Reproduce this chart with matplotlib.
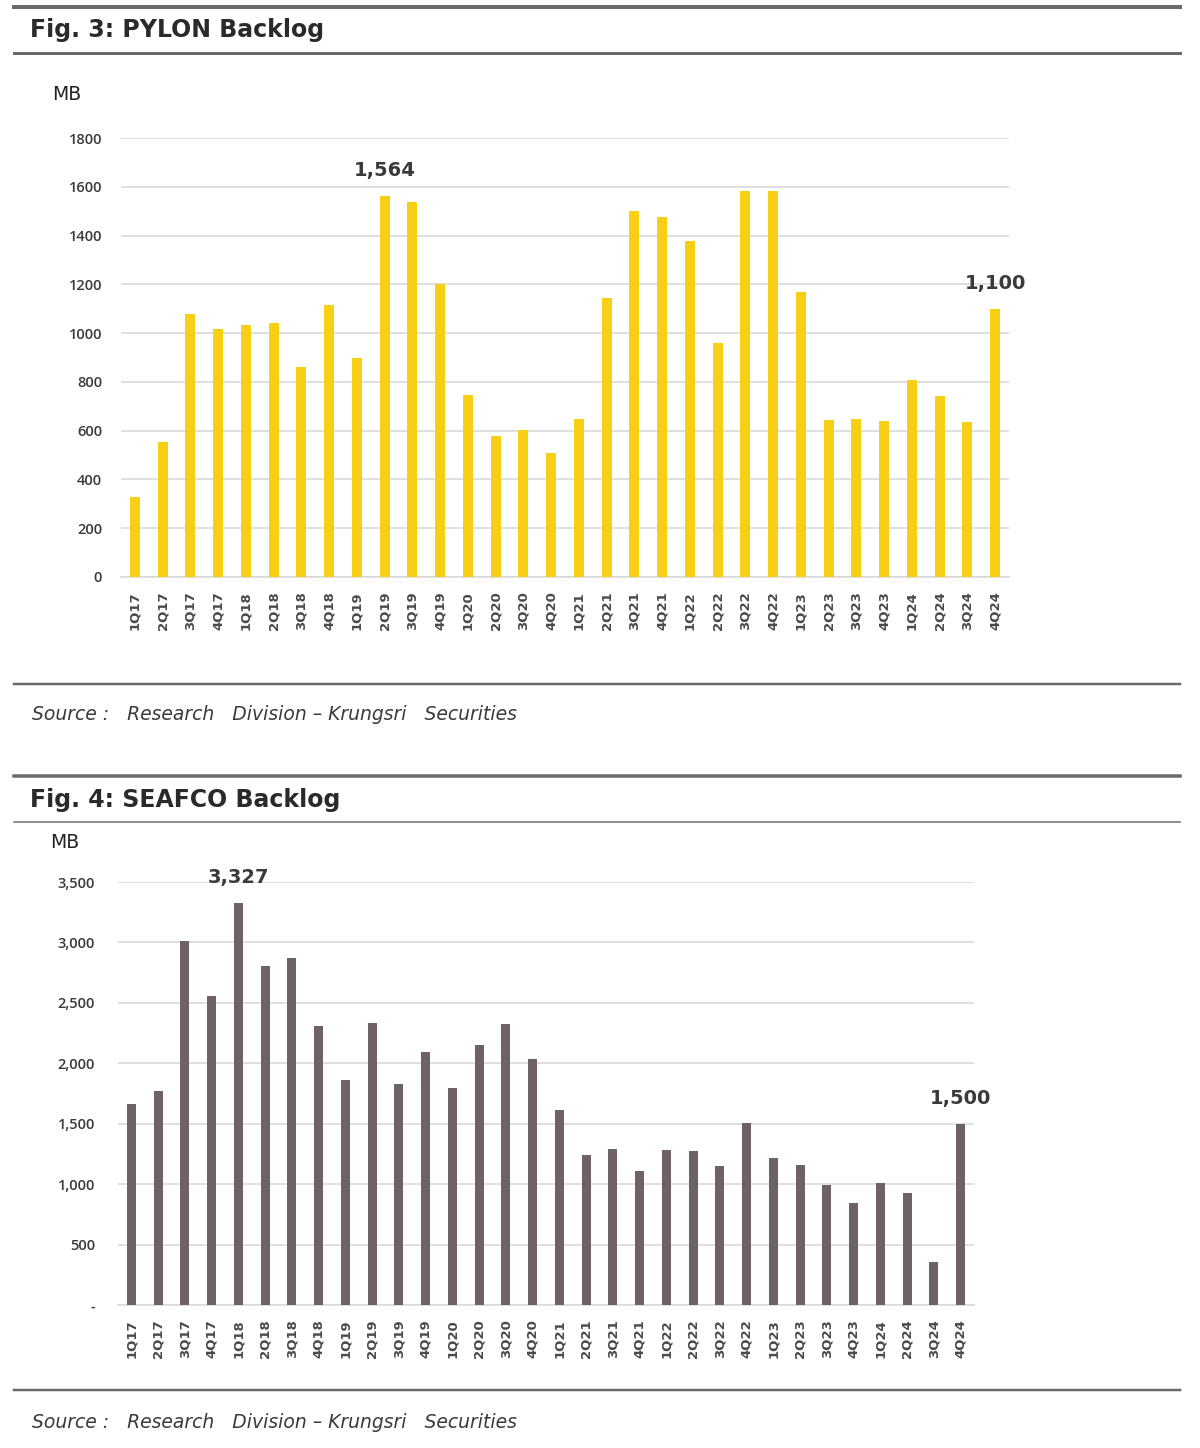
import matplotlib
matplotlib.use('Agg')
import matplotlib.pyplot as plt
from matplotlib.lines import Line2D
from matplotlib.ticker import FuncFormatter

# quarters
quarters = ['1Q17', '2Q17', '3Q17', '4Q17', '1Q18', '2Q18', '3Q18', '4Q18',
            '1Q19', '2Q19', '3Q19', '4Q19', '1Q20', '2Q20', '3Q20', '4Q20',
            '1Q21', '2Q21', '3Q21', '4Q21', '1Q22', '2Q22', '3Q22', '4Q22',
            '1Q23', '2Q23', '3Q23', '4Q23', '1Q24', '2Q24', '3Q24', '4Q24']

# backlog (MB)
pylon = [330, 552, 1077, 1016, 1035, 1040, 861, 1115,
         898, 1564, 1537, 1200, 745, 579, 602, 507,
         648, 1142, 1500, 1475, 1377, 960, 1581, 1581,
         1167, 643, 649, 639, 807, 743, 636, 1100]

seafco = [1666, 1774, 3011, 2556, 3327, 2804, 2873, 2311,
          1865, 2333, 1826, 2093, 1798, 2151, 2327, 2036,
          1611, 1245, 1289, 1110, 1283, 1278, 1149, 1507,
          1217, 1162, 997, 845, 1011, 928, 352, 1500]

pylon_labels = {'2Q19': '1,564', '4Q24': '1,100'}
seafco_labels = {'1Q18': '3,327', '4Q24': '1,500'}

source_txt = 'Source :   Research   Division \u2013 Krungsri   Securities'

W, H = 1200, 1448
plt.rcParams['font.family'] = ['DejaVu Sans']
fig = plt.figure(figsize=(W / 100, H / 100), dpi=100)

def fx(x):
    return x / W

def fy(y):
    return 1 - y / H

def hline(y, lw_px):
    fig.add_artist(Line2D([fx(14), fx(1180)], [fy(y), fy(y)], color='#6a6a6a',
                          lw=lw_px * 0.72, transform=fig.transFigure))

def panel(vals, labels, color, box, ymax, ystep, fmt, barw, ypad):
    x0, y0, x1, y1 = box
    ax = fig.add_axes([fx(x0), fy(y1), fx(x1 - x0), (y1 - y0) / H])
    xs = range(len(vals))
    ax.bar(xs, vals, width=barw, color=color, zorder=3)
    ax.set_xlim(-0.5, len(vals) - 0.5)
    ax.set_ylim(0, ymax)
    ax.set_yticks(range(0, ymax + 1, ystep))
    ax.yaxis.set_major_formatter(FuncFormatter(fmt))
    for t in ax.get_yticklabels():
        t.set_family(['Open Sans', 'DejaVu Sans'])
        t.set_fontweight('semibold')
    ax.set_xticks(list(xs))
    ax.set_xticklabels(quarters, rotation=90, fontsize=9.5, fontweight='bold',
                       color='#4a4a4a')
    ax.tick_params(axis='y', labelsize=10.5, colors='#3a3a3a', length=0, pad=ypad)
    ax.tick_params(axis='x', length=0, pad=10)
    ax.grid(axis='y', color='#d9d9d9', lw=1.2, zorder=0)
    for s in ['top', 'right', 'left']:
        ax.spines[s].set_visible(False)
    ax.spines['bottom'].set_color('#d9d9d9')
    ax.spines['bottom'].set_linewidth(1.2)
    for q, txt in labels.items():
        i = quarters.index(q)
        ax.annotate(txt, (i, vals[i]), xytext=(0, 18), textcoords='offset points',
                    ha='center', va='center', fontsize=14, fontweight='bold',
                    color='#3a3a3a')
    return ax

# ---- Fig. 3
hline(7, 4)
fig.text(fx(30), fy(30), 'Fig. 3: PYLON Backlog', fontsize=17, fontweight='bold',
         color='#2a2a2a', va='center', ha='left')
hline(53, 3)
fig.text(fx(52), fy(95), 'MB', fontsize=13.5, color='#222222', va='center')
panel(pylon, pylon_labels, '#F7CF14', (121, 138, 1009, 577), 1800, 200,
      lambda v, p: '%d' % v, 0.36, 13.5)
hline(684, 2.5)
fig.text(fx(32), fy(715), source_txt, fontsize=13.5, style='italic',
         color='#3a3a3a', va='center')

# ---- Fig. 4
hline(776, 3.5)
fig.text(fx(30), fy(800), 'Fig. 4: SEAFCO Backlog', fontsize=17, fontweight='bold',
         color='#2a2a2a', va='center', ha='left')
hline(822, 1.5)
fig.text(fx(50), fy(843), 'MB', fontsize=13.5, color='#222222', va='center')
panel(seafco, seafco_labels, '#6E6264', (118, 882, 974, 1305), 3500, 500,
      lambda v, p: '-' if v == 0 else '{:,}'.format(int(v)), 0.34, 16.5)
hline(1390, 2.5)
fig.text(fx(32), fy(1422), source_txt, fontsize=13.5, style='italic',
         color='#3a3a3a', va='center')

plt.savefig('out.png', dpi=100)
